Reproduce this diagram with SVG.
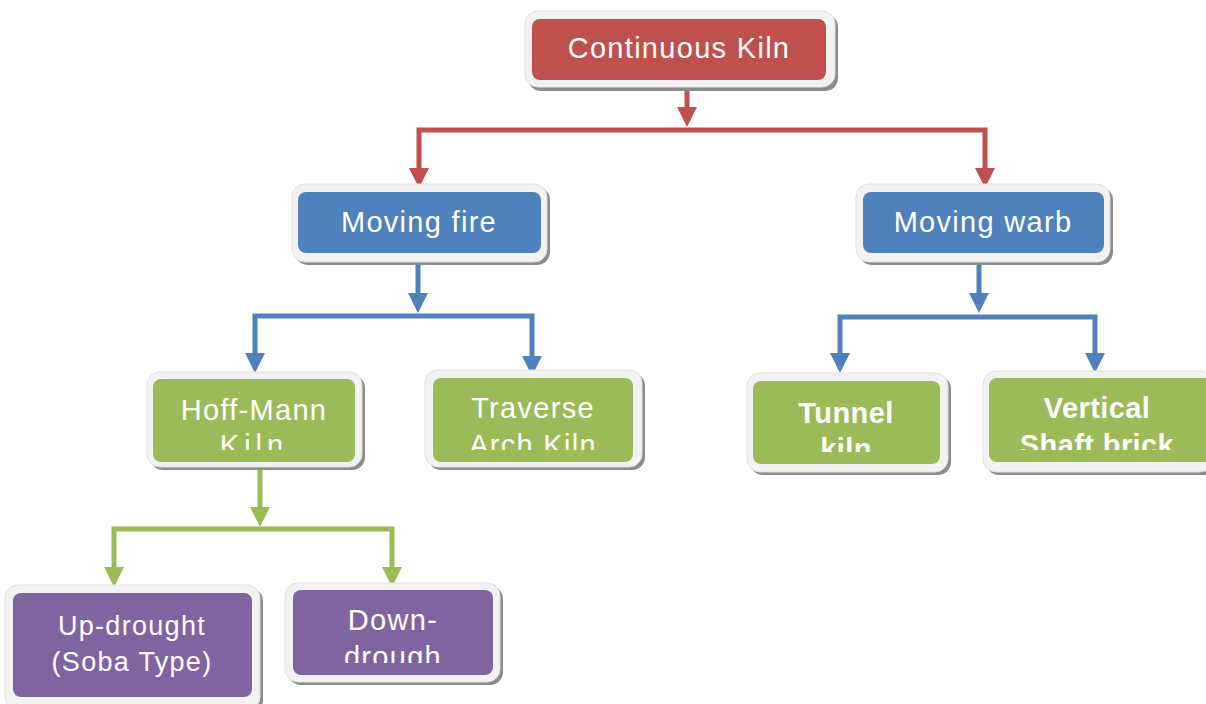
<svg xmlns="http://www.w3.org/2000/svg" width="1206" height="704" viewBox="0 0 1206 704">
<style>
.bg{fill:#ffffff}
.shadow{fill:#8c8c8c}
.frame{fill:#f2f2f2;stroke:#e0e0e0;stroke-width:1}
.red{fill:#C0504D}
.blue{fill:#4F81BD}
.green{fill:#9BBB59}
.purple{fill:#8064A2}
.t{font-family:"Liberation Sans",Arial,sans-serif;font-size:29px;fill:#ffffff;text-anchor:middle;letter-spacing:1.3px}
.b{font-weight:bold;letter-spacing:0.4px}
.s{font-size:27px;letter-spacing:1.3px}
.c{fill:none;stroke-width:5}
</style>
<defs>
<marker id="ar" viewBox="0 0 20 20" refX="9" refY="10" markerWidth="20" markerHeight="20" markerUnits="userSpaceOnUse" orient="auto-start-reverse"><path d="M0,0 L20,10 L0,20 z" fill="#C0504D"/></marker>
<marker id="ab" viewBox="0 0 20 20" refX="9" refY="10" markerWidth="20" markerHeight="20" markerUnits="userSpaceOnUse" orient="auto-start-reverse"><path d="M0,0 L20,10 L0,20 z" fill="#4F81BD"/></marker>
<marker id="ag" viewBox="0 0 20 20" refX="9" refY="10" markerWidth="20" markerHeight="20" markerUnits="userSpaceOnUse" orient="auto-start-reverse"><path d="M0,0 L20,10 L0,20 z" fill="#9BBB59"/></marker>
<clipPath id="c4"><rect x="150" y="375" width="210" height="75"/></clipPath>
<clipPath id="c5"><rect x="430" y="372" width="210" height="78"/></clipPath>
<clipPath id="c6"><rect x="750" y="375" width="195" height="77"/></clipPath>
<clipPath id="c7"><rect x="985" y="372" width="225" height="78"/></clipPath>
<clipPath id="c9"><rect x="290" y="585" width="210" height="78"/></clipPath>
</defs>
<rect class="bg" width="1206" height="704"/>

<g id="connectors">
<path class="c" stroke="#C0504D" d="M687,87 V116" marker-end="url(#ar)"/>
<path class="c" stroke="#C0504D" d="M419,177 V130 H985 V177" marker-start="url(#ar)" marker-end="url(#ar)"/>
<path class="c" stroke="#4F81BD" d="M418,262 V302" marker-end="url(#ab)"/>
<path class="c" stroke="#4F81BD" d="M255,362 V316 H532 V365" marker-start="url(#ab)" marker-end="url(#ab)"/>
<path class="c" stroke="#4F81BD" d="M979,262 V302" marker-end="url(#ab)"/>
<path class="c" stroke="#4F81BD" d="M840,362 V317 H1095 V362" marker-start="url(#ab)" marker-end="url(#ab)"/>
<path class="c" stroke="#9BBB59" d="M260,467 V516" marker-end="url(#ag)"/>
<path class="c" stroke="#9BBB59" d="M114,576 V529 H392 V576" marker-start="url(#ag)" marker-end="url(#ag)"/>
</g>

<g id="continuous-kiln">
<rect class="shadow" x="528" y="14" width="310" height="77" rx="13"/>
<rect class="frame" x="525" y="11" width="310" height="76" rx="13"/>
<rect class="red" x="532" y="19" width="294" height="61" rx="8"/>
<text class="t" x="679" y="58">Continuous Kiln</text>
</g>

<g id="moving-fire">
<rect class="shadow" x="295" y="187" width="255" height="78" rx="13"/>
<rect class="frame" x="292" y="184" width="255" height="78" rx="13"/>
<rect class="blue" x="298" y="192" width="243" height="61" rx="8"/>
<text class="t" x="419" y="232">Moving fire</text>
</g>

<g id="moving-warb">
<rect class="shadow" x="859" y="187" width="254" height="78" rx="13"/>
<rect class="frame" x="856" y="184" width="254" height="78" rx="13"/>
<rect class="blue" x="863" y="192" width="241" height="61" rx="8"/>
<text class="t" x="983" y="232">Moving warb</text>
</g>

<g id="hoff-mann-kiln">
<rect class="shadow" x="150" y="375" width="215" height="95" rx="13"/>
<rect class="frame" x="147" y="372" width="215" height="95" rx="13"/>
<rect class="green" x="153" y="379" width="202" height="83" rx="8"/>
<g clip-path="url(#c4)"><text class="t" x="254" y="420">Hoff-Mann</text><text class="t" x="254" y="455" style="letter-spacing:5px">Kiln</text></g>
</g>

<g id="traverse-arch-kiln">
<rect class="shadow" x="428" y="373" width="217" height="97" rx="13"/>
<rect class="frame" x="425" y="370" width="217" height="97" rx="13"/>
<rect class="green" x="433" y="378" width="200" height="84" rx="8"/>
<g clip-path="url(#c5)"><text class="t" x="533" y="418">Traverse</text><text class="t" x="533" y="455">Arch Kiln</text></g>
</g>

<g id="tunnel-kiln">
<rect class="shadow" x="750" y="376" width="201" height="99" rx="13"/>
<rect class="frame" x="747" y="373" width="201" height="99" rx="13"/>
<rect class="green" x="753" y="381" width="187" height="83" rx="8"/>
<g clip-path="url(#c6)"><text class="t b" x="846" y="423">Tunnel</text><text class="t b" x="846" y="459">kiln</text></g>
</g>

<g id="vertical-shaft-brick">
<rect class="shadow" x="986" y="374" width="230" height="101" rx="13"/>
<rect class="frame" x="983" y="371" width="230" height="101" rx="13"/>
<rect class="green" x="989" y="378" width="225" height="84" rx="8"/>
<g clip-path="url(#c7)"><text class="t b" x="1097" y="418">Vertical</text><text class="t b" x="1097" y="455">Shaft brick</text></g>
</g>

<g id="up-drought">
<rect class="shadow" x="8" y="588" width="255" height="125" rx="13"/>
<rect class="frame" x="5" y="585" width="255" height="125" rx="13"/>
<rect class="purple" x="13" y="593" width="239" height="104" rx="8"/>
<text class="t s" x="132" y="635">Up-drought</text>
<text class="t s" x="132" y="671">(Soba Type)</text>
</g>

<g id="down-drough">
<rect class="shadow" x="288" y="586" width="215" height="99" rx="13"/>
<rect class="frame" x="285" y="583" width="215" height="99" rx="13"/>
<rect class="purple" x="293" y="590" width="200" height="85" rx="8"/>
<g clip-path="url(#c9)"><text class="t" x="393" y="630">Down-</text><text class="t" x="393" y="667">drough</text></g>
</g>
</svg>
